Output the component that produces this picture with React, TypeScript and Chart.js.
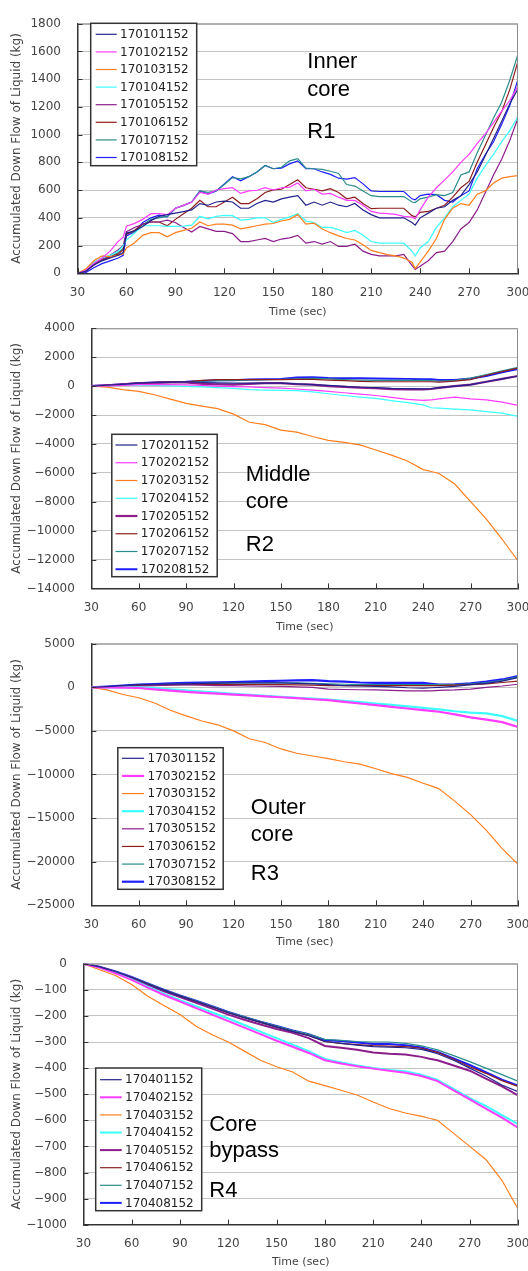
import React, { useEffect, useRef } from "react";
import { Chart, registerables } from "chart.js";

Chart.register(...registerables);

const FONT = "'DejaVu Sans', sans-serif";
const NOTE_FONT = "'Liberation Sans', Arial, sans-serif";
const CANVAS_W = 560;
const COLORS = ["#22228c", "#ff3cff", "#ff7f1e", "#3cffff", "#8c1e8c", "#8c1e1e", "#2a8c8c", "#1e1eff"];

const X_TICKS = [30, 60, 90, 120, 150, 180, 210, 240, 270, 300];
const X_TITLE = "Time (sec)";
const Y_TITLE = "Accumulated Down Flow of Liquid (kg)";

// ---------- Panel 1 : Inner core R1 ----------
const t1 = [30, 35, 40, 45, 50, 55, 58, 60, 65, 70, 75, 80, 85, 90, 95, 100, 105, 110, 115, 120, 125, 130, 135, 140, 145, 150, 155, 160, 165, 170, 175, 180, 185, 190, 195, 200, 205, 210, 215, 220, 225, 230, 235, 237, 240, 245, 250, 255, 260, 265, 270, 275, 280, 285, 290, 295, 300];
const names1 = ["170101152", "170102152", "170103152", "170104152", "170105152", "170106152", "170107152", "170108152"];
const s170101152 = [0, 15, 60, 90, 110, 130, 150, 290, 305, 338, 380, 411, 423, 434, 445, 457, 503, 491, 514, 521, 514, 469, 469, 503, 526, 514, 537, 549, 560, 491, 514, 491, 514, 491, 480, 503, 457, 423, 400, 400, 400, 400, 366, 347, 400, 434, 469, 480, 526, 560, 640, 730, 850, 972, 1097, 1223, 1330];
const s170102152 = [0, 20, 70, 110, 160, 230, 260, 340, 360, 389, 430, 430, 423, 469, 490, 514, 583, 571, 601, 610, 617, 576, 594, 599, 617, 601, 617, 622, 651, 594, 606, 571, 576, 549, 526, 526, 491, 446, 434, 430, 425, 411, 405, 393, 457, 549, 617, 674, 731, 800, 857, 937, 1006, 1086, 1170, 1246, 1350];
const s170103152 = [0, 30, 90, 125, 120, 130, 140, 183, 220, 274, 293, 293, 263, 293, 310, 325, 370, 343, 354, 354, 347, 320, 331, 343, 354, 359, 377, 389, 423, 354, 361, 320, 293, 270, 251, 240, 206, 165, 149, 135, 126, 110, 80, 34, 80, 160, 251, 389, 469, 503, 491, 571, 594, 651, 686, 697, 705];
const s170104152 = [0, 25, 80, 110, 130, 160, 200, 240, 290, 343, 343, 343, 338, 338, 340, 347, 411, 393, 411, 418, 416, 384, 389, 400, 400, 366, 389, 407, 430, 377, 366, 331, 331, 315, 293, 309, 274, 229, 217, 217, 217, 217, 160, 126, 183, 229, 331, 400, 480, 526, 571, 686, 777, 857, 949, 1029, 1130];
const s170105152 = [0, 15, 60, 100, 130, 170, 200, 300, 330, 354, 370, 370, 384, 366, 330, 297, 338, 320, 302, 302, 286, 229, 229, 240, 251, 229, 247, 256, 274, 217, 229, 210, 229, 194, 194, 210, 160, 137, 126, 126, 126, 137, 57, 27, 50, 91, 149, 160, 229, 320, 366, 457, 583, 709, 823, 960, 1120];
const s170106152 = [0, 15, 60, 95, 115, 140, 170, 280, 310, 354, 370, 370, 343, 389, 430, 469, 526, 480, 480, 514, 549, 503, 503, 537, 583, 601, 606, 640, 674, 617, 606, 594, 610, 583, 537, 549, 503, 466, 469, 469, 469, 469, 416, 407, 439, 446, 469, 491, 549, 617, 663, 800, 926, 1052, 1166, 1326, 1530];
const s170107152 = [0, 20, 70, 100, 120, 150, 180, 290, 300, 350, 389, 400, 410, 469, 490, 514, 594, 583, 594, 640, 690, 681, 697, 731, 777, 754, 765, 811, 827, 759, 754, 750, 736, 720, 640, 629, 594, 560, 553, 553, 553, 553, 514, 510, 537, 549, 567, 560, 583, 709, 731, 869, 994, 1120, 1234, 1394, 1580];
const s170108152 = [0, 5, 40, 70, 90, 110, 130, 270, 300, 366, 400, 420, 407, 469, 490, 514, 594, 571, 594, 645, 697, 667, 697, 731, 777, 754, 759, 789, 811, 754, 754, 731, 713, 686, 679, 690, 645, 594, 590, 590, 590, 590, 537, 530, 560, 571, 567, 526, 514, 560, 594, 754, 857, 949, 1074, 1211, 1400];

// ---------- shared time axis for panels 2-4 ----------
const t234 = [30, 40, 50, 60, 70, 80, 90, 100, 110, 120, 130, 140, 150, 160, 170, 180, 190, 200, 210, 220, 230, 240, 245, 250, 260, 270, 280, 290, 300];

// ---------- Panel 2 : Middle core R2 ----------
const names2 = ["170201152", "170202152", "170203152", "170204152", "170205152", "170206152", "170207152", "170208152"];
const s170201152 = [0, 60, 120, 200, 250, 280, 300, 250, 220, 200, 200, 200, 200, 150, 100, 50, -20, -80, -100, -160, -180, -190, -180, -100, 0, 100, 300, 500, 700];
const s170202152 = [0, 20, 50, 100, 120, 100, 80, 50, 0, -30, -60, -100, -140, -200, -280, -370, -460, -550, -650, -780, -920, -990, -960, -880, -760, -880, -950, -1110, -1330];
const s170203152 = [0, -70, -240, -370, -600, -900, -1200, -1390, -1560, -1940, -2500, -2670, -3050, -3190, -3490, -3750, -3900, -4070, -4420, -4780, -5180, -5780, -5910, -6050, -6780, -8000, -9200, -10600, -12100];
const s170204152 = [0, 30, 60, 60, 40, 20, -20, -60, -100, -160, -250, -280, -300, -320, -400, -530, -650, -760, -850, -1000, -1150, -1300, -1500, -1520, -1590, -1650, -1760, -1870, -2100];
const s170205152 = [0, 60, 120, 200, 230, 250, 250, 150, 120, 100, 150, 200, 200, 130, 100, 0, -50, -100, -150, -210, -230, -230, -200, -120, 0, 100, 300, 500, 700];
const s170206152 = [0, 60, 120, 200, 260, 290, 300, 400, 450, 450, 450, 450, 450, 470, 460, 420, 380, 330, 300, 300, 300, 300, 300, 280, 350, 450, 750, 1000, 1250];
const s170207152 = [0, 60, 120, 200, 250, 280, 300, 350, 380, 400, 430, 450, 460, 500, 540, 500, 450, 420, 400, 400, 400, 400, 380, 350, 400, 550, 800, 1050, 1300];
const s170208152 = [0, 60, 120, 200, 250, 280, 300, 350, 400, 400, 450, 480, 500, 600, 620, 560, 550, 540, 530, 510, 500, 480, 470, 430, 430, 520, 700, 950, 1180];

// ---------- Panel 3 : Outer core R3 ----------
const names3 = ["170301152", "170302152", "170303152", "170304152", "170305152", "170306152", "170307152", "170308152"];
const s170301152 = [0, 80, 200, 300, 350, 380, 400, 450, 480, 500, 500, 500, 500, 450, 400, 300, 200, 150, 100, 50, -50, -100, -50, 0, 100, 300, 450, 700, 1100];
const s170302152 = [0, -10, -30, -80, -230, -380, -530, -630, -730, -830, -930, -1040, -1140, -1250, -1370, -1480, -1670, -1860, -2050, -2240, -2430, -2620, -2700, -2800, -3100, -3450, -3700, -4000, -4550];
const s170303152 = [0, -300, -830, -1200, -1800, -2630, -3280, -3860, -4300, -5000, -5900, -6330, -7070, -7560, -7880, -8170, -8540, -8820, -9340, -9900, -10330, -11000, -11310, -11650, -13050, -14600, -16400, -18500, -20300];
const s170304152 = [0, 0, 0, -20, -100, -230, -340, -480, -620, -760, -870, -990, -1100, -1200, -1300, -1400, -1550, -1700, -1860, -2020, -2180, -2350, -2450, -2530, -2750, -2900, -3000, -3300, -3860];
const s170305152 = [0, 50, 100, 150, 200, 250, 300, 250, 200, 200, 150, 120, 100, 50, 0, -200, -250, -280, -300, -350, -400, -420, -400, -350, -300, -200, 0, 150, 350];
const s170306152 = [0, 50, 120, 200, 230, 270, 300, 300, 300, 300, 300, 300, 300, 280, 250, 200, 200, 200, 200, 200, 200, 200, 200, 200, 250, 300, 400, 550, 700];
const s170307152 = [0, 60, 150, 200, 280, 350, 400, 450, 480, 500, 500, 500, 500, 500, 450, 400, 350, 300, 300, 300, 300, 300, 300, 300, 300, 400, 550, 800, 1200];
const s170308152 = [0, 80, 200, 300, 380, 450, 500, 550, 580, 600, 650, 700, 750, 800, 830, 700, 650, 550, 500, 500, 500, 500, 400, 300, 350, 450, 650, 900, 1300];

// ---------- Panel 4 : Core bypass R4 ----------
const names4 = ["170401152", "170402152", "170403152", "170404152", "170405152", "170406152", "170407152", "170408152"];
const s170401152 = [0, -12, -31, -53, -78, -102, -124, -145, -166, -188, -207, -225, -243, -260, -276, -298, -305, -312, -318, -320, -322, -328, -336, -345, -370, -400, -430, -465, -490];
const s170402152 = [0, -15, -37, -62, -92, -120, -145, -170, -195, -220, -245, -270, -295, -318, -342, -370, -382, -393, -402, -410, -418, -430, -440, -450, -485, -520, -555, -590, -628];
const s170403152 = [0, -23, -45, -80, -125, -160, -195, -240, -272, -300, -335, -370, -395, -415, -450, -467, -485, -503, -530, -555, -572, -585, -592, -600, -650, -700, -750, -830, -940];
const s170404152 = [0, -15, -35, -60, -88, -115, -140, -163, -187, -210, -235, -260, -285, -310, -335, -365, -378, -390, -400, -407, -412, -425, -435, -445, -480, -515, -545, -580, -615];
const s170405152 = [0, -13, -33, -55, -82, -106, -128, -150, -172, -195, -215, -233, -250, -265, -285, -315, -322, -330, -340, -345, -348, -357, -364, -370, -390, -410, -440, -470, -505];
const s170406152 = [0, -12, -31, -53, -78, -102, -124, -145, -166, -188, -207, -225, -243, -260, -275, -298, -305, -310, -314, -316, -318, -324, -332, -340, -366, -395, -420, -448, -470];
const s170407152 = [0, -12, -30, -51, -76, -100, -122, -142, -163, -185, -204, -222, -239, -256, -270, -290, -294, -298, -300, -300, -305, -315, -322, -330, -352, -375, -400, -425, -450];
const s170408152 = [0, -12, -30, -51, -76, -100, -122, -142, -163, -185, -204, -222, -239, -256, -270, -293, -296, -302, -308, -308, -312, -321, -330, -338, -363, -388, -416, -444, -467];

type Legend = { x0: number; x1: number; y0: number; y1: number; rowY: number; rowGap: number; lx0: number; lx1: number; tx: number };
type Panel = {
  top: number;
  height: number;
  plot: { l: number; r: number; t: number; b: number };
  yMin: number;
  yMax: number;
  yStep: number;
  times: number[];
  names: string[];
  series: number[][];
  widths: number[];
  legend: Legend;
  notes: [string, number, number][];
};

const PANELS: Panel[] = [
  {
    top: 0,
    height: 319,
    plot: { l: 77.5, r: 518, t: 12.75, b: 273.3 },
    yMin: 0, yMax: 1800, yStep: 200,
    times: t1,
    names: names1,
    series: [s170101152, s170102152, s170103152, s170104152, s170105152, s170106152, s170107152, s170108152],
    widths: [1.2, 1.2, 1.2, 1.2, 1.2, 1.2, 1.2, 1.2],
    legend: { x0: 90.7, x1: 196.7, y0: 23.3, y1: 165.7, rowY: 34.3, rowGap: 17.6, lx0: 95.7, lx1: 116.7, tx: 120 },
    notes: [["Inner", 307.3, 68.3], ["core", 307.3, 96], ["R1", 307.3, 138.3]],
  },
  {
    top: 300,
    height: 334,
    plot: { l: 91.3, r: 518, t: 328.3, b: 588.4 },
    yMin: -14000, yMax: 4000, yStep: 2000,
    times: t234,
    names: names2,
    series: [s170201152, s170202152, s170203152, s170204152, s170205152, s170206152, s170207152, s170208152],
    widths: [1.2, 1.2, 1.2, 1.2, 2.2, 1.2, 1.2, 2],
    legend: { x0: 111.8, x1: 217.2, y0: 434.3, y1: 576.7, rowY: 445, rowGap: 17.75, lx0: 115.5, lx1: 137.4, tx: 140.7 },
    notes: [["Middle", 245.8, 481], ["core", 245.8, 508.3], ["R2", 245.8, 550.7]],
  },
  {
    top: 620,
    height: 329,
    plot: { l: 91.3, r: 518, t: 641.3, b: 905.3 },
    yMin: -25000, yMax: 5000, yStep: 5000,
    times: t234,
    names: names3,
    series: [s170301152, s170302152, s170303152, s170304152, s170305152, s170306152, s170307152, s170308152],
    widths: [1.2, 2.2, 1.2, 2.2, 1.2, 1.2, 1.2, 2.2],
    legend: { x0: 117.8, x1: 223.2, y0: 747.7, y1: 889.3, rowY: 758.3, rowGap: 17.63, lx0: 121.9, lx1: 144.1, tx: 147.5 },
    notes: [["Outer", 250.8, 814], ["core", 250.8, 840.7], ["R3", 250.8, 880]],
  },
  {
    top: 940,
    height: 329,
    plot: { l: 83.4, r: 518, t: 962, b: 1224.7 },
    yMin: -1000, yMax: 0, yStep: 100,
    times: t234,
    names: names4,
    series: [s170401152, s170402152, s170403152, s170404152, s170405152, s170406152, s170407152, s170408152],
    widths: [1.2, 2, 1.2, 2, 2, 1.2, 1.2, 2],
    legend: { x0: 95.7, x1: 201.7, y0: 1068, y1: 1210.7, rowY: 1079.7, rowGap: 17.6, lx0: 100, lx1: 121.7, tx: 125 },
    notes: [["Core", 209.3, 1130.7], ["bypass", 209.3, 1157.3], ["R4", 209.3, 1197.3]],
  },
];

function fmt(v: number): string {
  return v < 0 ? "\u2212" + Math.abs(v) : String(v);
}

function PanelChart({ p }: { p: Panel }) {
  const ref = useRef<HTMLCanvasElement>(null);

  useEffect(() => {
    const canvas = ref.current;
    if (!canvas) return;
    const rel = (y: number) => y - p.top;
    const plotTop = rel(p.plot.t);
    const plotBottom = rel(p.plot.b);

    const decor = {
      id: "decor",
      afterDraw(chart: any) {
        const { ctx, chartArea: a, scales } = chart;
        ctx.save();
        // top/right frame
        ctx.strokeStyle = "#8c8c8c";
        ctx.lineWidth = 1;
        ctx.beginPath();
        ctx.moveTo(a.left, a.top + 0.5);
        ctx.lineTo(a.right - 0.5, a.top + 0.5);
        ctx.lineTo(a.right - 0.5, a.bottom);
        ctx.stroke();
        // inward tick marks
        ctx.strokeStyle = "#333";
        ctx.lineWidth = 1;
        ctx.beginPath();
        for (const v of X_TICKS) {
          const x = Math.round(scales.x.getPixelForValue(v)) + 0.5;
          ctx.moveTo(x, a.bottom);
          ctx.lineTo(x, a.bottom - 5);
        }
        for (let v = p.yMin; v <= p.yMax; v += p.yStep) {
          const y = Math.round(scales.y.getPixelForValue(v)) + 0.5;
          ctx.moveTo(a.left, y);
          ctx.lineTo(a.left + 5, y);
        }
        ctx.stroke();
        // legend box
        const L = p.legend;
        ctx.fillStyle = "#ffffff";
        ctx.fillRect(L.x0, rel(L.y0), L.x1 - L.x0, L.y1 - L.y0);
        ctx.strokeStyle = "#333";
        ctx.lineWidth = 1.5;
        ctx.strokeRect(L.x0, rel(L.y0), L.x1 - L.x0, L.y1 - L.y0);
        ctx.font = `12px ${FONT}`;
        ctx.textBaseline = "middle";
        ctx.textAlign = "left";
        p.names.forEach((name, i) => {
          const y = rel(L.rowY + i * L.rowGap);
          ctx.strokeStyle = COLORS[i];
          ctx.lineWidth = p.widths[i];
          ctx.beginPath();
          ctx.moveTo(L.lx0, y);
          ctx.lineTo(L.lx1, y);
          ctx.stroke();
          ctx.fillStyle = "#222";
          ctx.fillText(name, L.tx, y + 0.5);
        });
        // annotations
        ctx.fillStyle = "#000";
        ctx.font = `22px ${NOTE_FONT}`;
        ctx.textBaseline = "alphabetic";
        p.notes.forEach(([txt, x, y]) => ctx.fillText(txt, x, rel(y)));
        ctx.restore();
      },
    };

    const chart = new Chart(canvas, {
      type: "line",
      data: {
        datasets: p.series.map((s, i) => ({
          label: p.names[i],
          data: p.times.map((t, k) => ({ x: t, y: s[k] })),
          borderColor: COLORS[i],
          backgroundColor: COLORS[i],
          borderWidth: p.widths[i],
          pointRadius: 0,
          fill: false,
          tension: 0,
        })),
      },
      options: {
        responsive: false,
        animation: false,
        events: [],
        layout: { padding: { left: 0, top: plotTop, right: CANVAS_W - p.plot.r, bottom: 0 } },
        plugins: { legend: { display: false }, tooltip: { enabled: false } },
        scales: {
          x: {
            type: "linear",
            min: 30,
            max: 300,
            ticks: { stepSize: 30, autoSkip: false, maxRotation: 0, padding: 12, color: "#444", font: { family: FONT, size: 12 } },
            grid: { display: false, drawTicks: false },
            border: { display: true, color: "#333", width: 1.5 },
            title: { display: true, text: X_TITLE, color: "#444", font: { family: FONT, size: 11 }, padding: { top: 0, bottom: 0 } },
            afterFit: (s: any) => {
              s.height = p.height - plotBottom;
            },
          },
          y: {
            type: "linear",
            min: p.yMin,
            max: p.yMax,
            ticks: { stepSize: p.yStep, padding: 16.5, color: "#444", font: { family: FONT, size: 12 }, callback: (v: any) => fmt(Number(v)) },
            grid: { color: "#c4c4c4", lineWidth: 1, drawTicks: false },
            border: { display: true, color: "#333", width: 1.5 },
            title: { display: true, text: Y_TITLE, color: "#444", font: { family: FONT, size: 12 }, padding: { top: 9.5, bottom: 0 } },
            afterFit: (s: any) => {
              s.width = p.plot.l;
            },
          },
        },
      } as any,
      plugins: [decor],
    });
    return () => chart.destroy();
  }, [p]);

  return (
    <canvas
      ref={ref}
      width={CANVAS_W}
      height={p.height}
      style={{ position: "absolute", left: 0, top: p.top, width: CANVAS_W, height: p.height }}
    />
  );
}

export default function App() {
  return (
    <div style={{ position: "absolute", left: 0, top: 0, width: 528, height: 1271, overflow: "hidden", background: "#fff" }}>
      {PANELS.map((p, i) => (
        <PanelChart key={i} p={p} />
      ))}
    </div>
  );
}
